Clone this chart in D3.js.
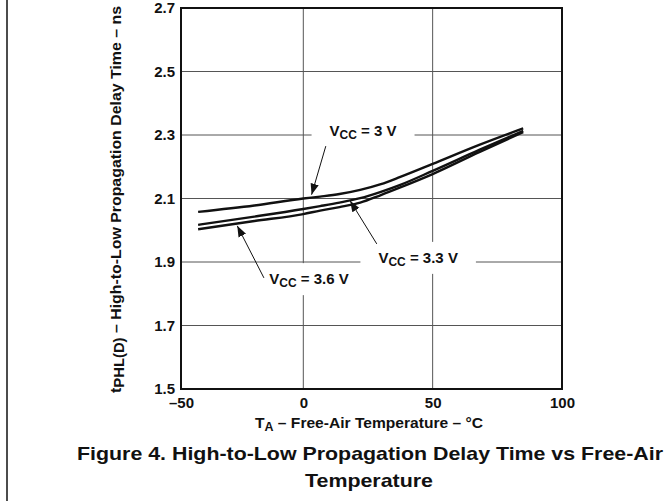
<!DOCTYPE html>
<html>
<head>
<meta charset="utf-8">
<script src="https://cdn.jsdelivr.net/npm/d3@7"></script>
<style>
  body { margin: 0; background: #fff; }
  text { font-family: "Liberation Sans", Arial, sans-serif; font-weight: bold; fill: #111; }
</style>
</head>
<body>
<script>
// values
const temps = [-43, -20, 0, 6.5, 14, 22, 30, 37.5, 50, 68, 85];
const vcc30 = [2.058, 2.078, 2.100, 2.106, 2.114, 2.127, 2.145, 2.168, 2.209, 2.269, 2.321];
const vcc33 = [2.017, 2.043, 2.067, 2.076, 2.087, 2.101, 2.121, 2.143, 2.187, 2.253, 2.313];
const vcc36 = [2.003, 2.029, 2.051, 2.062, 2.073, 2.087, 2.111, 2.135, 2.177, 2.246, 2.309];
const xTicks = [-50, 0, 50, 100];
const yTicks = [1.5, 1.7, 1.9, 2.1, 2.3, 2.5, 2.7];

// annotations in data units: label centre, arrow tail, arrow tip
const notes = [
  { v: '3 V',   lx: 23.1, ly: 2.313, tail: [8.7, 2.265],  tip: [3.2, 2.112] },
  { v: '3.3 V', lx: 44.4, ly: 1.913, tail: [28.4, 1.957], tip: [18.1, 2.093] },
  { v: '3.6 V', lx: 2.2,  ly: 1.846, tail: [-16.1, 1.850], tip: [-27, 2.014] }
];

const width = 671, height = 501;
const margin = { top: 8, right: 109, bottom: 112, left: 181 };
const x0 = margin.left, x1 = width - margin.right;
const y0 = height - margin.bottom, y1 = margin.top;

// the printed axis is not quite uniform left of 0
const x = d3.scaleLinear().domain([-50, 0, 100]).range([x0, 303.3, x1]);
const y = d3.scaleLinear().domain([1.5, 2.7]).range([y0, y1]);

const svg = d3.select('body').append('svg')
  .attr('width', width).attr('height', height);

// page frame line on the left
svg.append('line')
  .attr('x1', 7).attr('x2', 7).attr('y1', 0).attr('y2', height)
  .attr('stroke', '#111').attr('stroke-width', 1.5);

svg.append('defs').append('marker')
  .attr('id', 'head')
  .attr('viewBox', '0 0 10 10')
  .attr('refX', 10).attr('refY', 5)
  .attr('markerWidth', 11).attr('markerHeight', 11)
  .attr('markerUnits', 'userSpaceOnUse')
  .attr('orient', 'auto')
  .append('path').attr('d', 'M0,1.2L10,5L0,8.8Z').attr('fill', '#111');

// grid
svg.append('g').selectAll('line')
  .data(yTicks.slice(1, -1)).join('line')
  .attr('x1', x0).attr('x2', x1)
  .attr('y1', d => y(d)).attr('y2', d => y(d))
  .attr('stroke', '#555').attr('stroke-width', 1);
svg.append('g').selectAll('line')
  .data(xTicks.slice(1, -1)).join('line')
  .attr('x1', d => x(d)).attr('x2', d => x(d))
  .attr('y1', y0).attr('y2', y1)
  .attr('stroke', '#555').attr('stroke-width', 1);

// tick labels
const xAxis = d3.axisBottom(x).tickValues(xTicks).tickSize(0).tickPadding(8)
  .tickFormat(d => d < 0 ? '\u2013' + Math.abs(d) : d);
svg.append('g').attr('transform', 'translate(0,' + y0 + ')').call(xAxis)
  .call(g => g.select('.domain').remove())
  .selectAll('text').attr('font-size', 15).style('font-family', null);

const yAxis = d3.axisLeft(y).tickValues(yTicks).tickSize(0).tickPadding(6)
  .tickFormat(d3.format('.1f'));
svg.append('g').attr('transform', 'translate(' + x0 + ',0)').call(yAxis)
  .call(g => g.select('.domain').remove())
  .selectAll('text').attr('font-size', 15).style('font-family', null);

// label boxes that break the grid
const labels = svg.append('g');
notes.forEach(n => {
  const t = labels.append('text')
    .attr('x', x(n.lx)).attr('y', y(n.ly) + 5)
    .attr('text-anchor', 'middle').attr('font-size', 15);
  t.append('tspan').text('V');
  t.append('tspan').text('CC').attr('font-size', 12).attr('dy', 3);
  t.append('tspan').text(' = ' + n.v).attr('dy', -3);
  const b = t.node().getBBox();
  labels.insert('rect', 'text')
    .attr('x', b.x - 18).attr('y', b.y - 7)
    .attr('width', b.width + 36).attr('height', b.height + 12)
    .attr('fill', '#fff');
});

// frame
svg.append('rect')
  .attr('x', x0).attr('y', y1).attr('width', x1 - x0).attr('height', y0 - y1)
  .attr('fill', 'none').attr('stroke', '#111').attr('stroke-width', 2);

// curves
const line = d3.line()
  .x((d, i) => x(temps[i]))
  .y(d => y(d))
  .curve(d3.curveMonotoneX);
[vcc30, vcc33, vcc36].forEach(s => {
  svg.append('path')
    .attr('d', line(s))
    .attr('fill', 'none').attr('stroke', '#111').attr('stroke-width', 2.4);
});

// arrows
svg.append('g').selectAll('line')
  .data(notes).join('line')
  .attr('x1', d => x(d.tail[0])).attr('y1', d => y(d.tail[1]))
  .attr('x2', d => x(d.tip[0])).attr('y2', d => y(d.tip[1]))
  .attr('stroke', '#111').attr('stroke-width', 1)
  .attr('marker-end', 'url(#head)');

// axis titles
const xt = svg.append('text')
  .attr('x', 369).attr('y', 428)
  .attr('text-anchor', 'middle').attr('font-size', 15);
xt.append('tspan').text('T');
xt.append('tspan').text('A').attr('font-size', 12).attr('dy', 3);
xt.append('tspan').text(' \u2013 Free-Air Temperature \u2013 \u00b0C').attr('dy', -3);
xt.attr('textLength', 228).attr('lengthAdjust', 'spacingAndGlyphs');

const yt = svg.append('text')
  .attr('transform', 'translate(121,' + ((y0 + y1) / 2 + 1) + ') rotate(-90)')
  .attr('text-anchor', 'middle').attr('font-size', 15)
  .attr('textLength', 387).attr('lengthAdjust', 'spacingAndGlyphs');
yt.append('tspan').text('t');
yt.append('tspan').text('PHL(D)').attr('font-size', 14).attr('dy', 3);
yt.append('tspan').text(' \u2013 High-to-Low Propagation Delay Time \u2013 ns').attr('dy', -3);

// caption
svg.append('text')
  .attr('x', 370).attr('y', 460)
  .attr('text-anchor', 'middle').attr('font-size', 19)
  .attr('textLength', 586).attr('lengthAdjust', 'spacingAndGlyphs')
  .text('Figure 4. High-to-Low Propagation Delay Time vs Free-Air');
svg.append('text')
  .attr('x', 369).attr('y', 487)
  .attr('text-anchor', 'middle').attr('font-size', 19)
  .attr('textLength', 128).attr('lengthAdjust', 'spacingAndGlyphs')
  .text('Temperature');
</script>
</body>
</html>
